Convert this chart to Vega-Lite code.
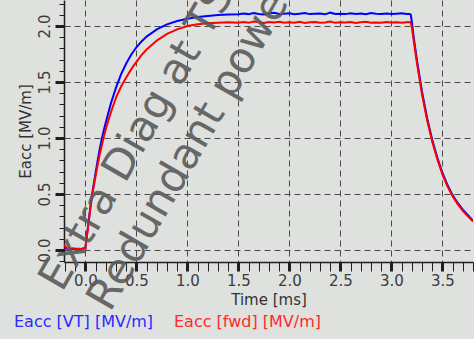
{
  "$schema": "https://vega.github.io/schema/vega-lite/v6.json",
  "width": 409,
  "height": 262,
  "autosize": {"type": "none"},
  "padding": {"left": 64, "top": 0, "right": 1, "bottom": 77},
  "background": "#dee1de",
  "config": {"view": {"stroke": null}, "font": "DejaVu Sans"},
  "datasets": {
    "curves": [
      {"s": "VT", "t": -0.21, "v": 0.015}, {"s": "VT", "t": -0.15, "v": 0.01}, {"s": "VT", "t": -0.1, "v": 0.012}, {"s": "VT", "t": -0.05, "v": 0.008}, {"s": "VT", "t": 0, "v": 0.015},
      {"s": "VT", "t": 0.01, "v": 0.10}, {"s": "VT", "t": 0.02, "v": 0.17}, {"s": "VT", "t": 0.03, "v": 0.24}, {"s": "VT", "t": 0.04, "v": 0.32}, {"s": "VT", "t": 0.06, "v": 0.47}, {"s": "VT", "t": 0.08, "v": 0.58}, {"s": "VT", "t": 0.1, "v": 0.69}, {"s": "VT", "t": 0.12, "v": 0.80}, {"s": "VT", "t": 0.14, "v": 0.90}, {"s": "VT", "t": 0.16, "v": 0.99}, {"s": "VT", "t": 0.18, "v": 1.07}, {"s": "VT", "t": 0.2, "v": 1.14}, {"s": "VT", "t": 0.25, "v": 1.31}, {"s": "VT", "t": 0.3, "v": 1.45}, {"s": "VT", "t": 0.35, "v": 1.57}, {"s": "VT", "t": 0.4, "v": 1.665}, {"s": "VT", "t": 0.45, "v": 1.745}, {"s": "VT", "t": 0.5, "v": 1.81}, {"s": "VT", "t": 0.55, "v": 1.862}, {"s": "VT", "t": 0.6, "v": 1.905}, {"s": "VT", "t": 0.7, "v": 1.97}, {"s": "VT", "t": 0.8, "v": 2.015}, {"s": "VT", "t": 0.9, "v": 2.045}, {"s": "VT", "t": 1.0, "v": 2.065}, {"s": "VT", "t": 1.1, "v": 2.08}, {"s": "VT", "t": 1.2, "v": 2.09}, {"s": "VT", "t": 1.3, "v": 2.098}, {"s": "VT", "t": 1.4, "v": 2.102},
      {"s": "VT", "t": 1.5, "v": 2.104}, {"s": "VT", "t": 1.55, "v": 2.112}, {"s": "VT", "t": 1.6, "v": 2.106}, {"s": "VT", "t": 1.65, "v": 2.115}, {"s": "VT", "t": 1.7, "v": 2.108}, {"s": "VT", "t": 1.75, "v": 2.103}, {"s": "VT", "t": 1.8, "v": 2.111}, {"s": "VT", "t": 1.85, "v": 2.118}, {"s": "VT", "t": 1.9, "v": 2.107}, {"s": "VT", "t": 1.95, "v": 2.109}, {"s": "VT", "t": 2.0, "v": 2.113}, {"s": "VT", "t": 2.05, "v": 2.105}, {"s": "VT", "t": 2.1, "v": 2.11}, {"s": "VT", "t": 2.15, "v": 2.116}, {"s": "VT", "t": 2.2, "v": 2.106}, {"s": "VT", "t": 2.25, "v": 2.109}, {"s": "VT", "t": 2.3, "v": 2.112}, {"s": "VT", "t": 2.35, "v": 2.104}, {"s": "VT", "t": 2.4, "v": 2.119}, {"s": "VT", "t": 2.45, "v": 2.108}, {"s": "VT", "t": 2.5, "v": 2.11}, {"s": "VT", "t": 2.55, "v": 2.106}, {"s": "VT", "t": 2.6, "v": 2.113}, {"s": "VT", "t": 2.65, "v": 2.107}, {"s": "VT", "t": 2.7, "v": 2.111}, {"s": "VT", "t": 2.75, "v": 2.104}, {"s": "VT", "t": 2.8, "v": 2.115}, {"s": "VT", "t": 2.85, "v": 2.109}, {"s": "VT", "t": 2.9, "v": 2.108}, {"s": "VT", "t": 2.95, "v": 2.112}, {"s": "VT", "t": 3.0, "v": 2.106}, {"s": "VT", "t": 3.05, "v": 2.11}, {"s": "VT", "t": 3.1, "v": 2.114}, {"s": "VT", "t": 3.15, "v": 2.107},
      {"s": "VT", "t": 3.18, "v": 2.108}, {"s": "VT", "t": 3.19, "v": 2.1}, {"s": "VT", "t": 3.2, "v": 2.04}, {"s": "VT", "t": 3.22, "v": 1.892}, {"s": "VT", "t": 3.25, "v": 1.697}, {"s": "VT", "t": 3.3, "v": 1.414}, {"s": "VT", "t": 3.35, "v": 1.179}, {"s": "VT", "t": 3.4, "v": 0.985}, {"s": "VT", "t": 3.45, "v": 0.825}, {"s": "VT", "t": 3.5, "v": 0.69}, {"s": "VT", "t": 3.55, "v": 0.58}, {"s": "VT", "t": 3.6, "v": 0.49}, {"s": "VT", "t": 3.65, "v": 0.42}, {"s": "VT", "t": 3.7, "v": 0.36}, {"s": "VT", "t": 3.75, "v": 0.31}, {"s": "VT", "t": 3.8, "v": 0.262},

      {"s": "fwd", "t": -0.21, "v": 0.05}, {"s": "fwd", "t": -0.2, "v": 0.035}, {"s": "fwd", "t": -0.18, "v": 0.015}, {"s": "fwd", "t": -0.15, "v": 0.01}, {"s": "fwd", "t": -0.12, "v": 0.015}, {"s": "fwd", "t": -0.1, "v": 0.008}, {"s": "fwd", "t": -0.07, "v": 0.012}, {"s": "fwd", "t": -0.04, "v": 0.01}, {"s": "fwd", "t": -0.02, "v": 0.015}, {"s": "fwd", "t": 0, "v": 0.02},
      {"s": "fwd", "t": 0.01, "v": 0.10}, {"s": "fwd", "t": 0.02, "v": 0.16}, {"s": "fwd", "t": 0.03, "v": 0.23}, {"s": "fwd", "t": 0.04, "v": 0.31}, {"s": "fwd", "t": 0.06, "v": 0.45}, {"s": "fwd", "t": 0.08, "v": 0.56}, {"s": "fwd", "t": 0.1, "v": 0.66}, {"s": "fwd", "t": 0.12, "v": 0.76}, {"s": "fwd", "t": 0.14, "v": 0.85}, {"s": "fwd", "t": 0.16, "v": 0.93}, {"s": "fwd", "t": 0.18, "v": 1.01}, {"s": "fwd", "t": 0.2, "v": 1.08}, {"s": "fwd", "t": 0.25, "v": 1.23}, {"s": "fwd", "t": 0.3, "v": 1.36}, {"s": "fwd", "t": 0.35, "v": 1.46}, {"s": "fwd", "t": 0.4, "v": 1.54}, {"s": "fwd", "t": 0.45, "v": 1.615}, {"s": "fwd", "t": 0.5, "v": 1.68}, {"s": "fwd", "t": 0.55, "v": 1.74}, {"s": "fwd", "t": 0.6, "v": 1.79}, {"s": "fwd", "t": 0.7, "v": 1.87}, {"s": "fwd", "t": 0.8, "v": 1.93}, {"s": "fwd", "t": 0.9, "v": 1.97}, {"s": "fwd", "t": 1.0, "v": 2.0}, {"s": "fwd", "t": 1.1, "v": 2.015}, {"s": "fwd", "t": 1.2, "v": 2.025}, {"s": "fwd", "t": 1.3, "v": 2.03}, {"s": "fwd", "t": 1.4, "v": 2.033},
      {"s": "fwd", "t": 1.5, "v": 2.03}, {"s": "fwd", "t": 1.55, "v": 2.036}, {"s": "fwd", "t": 1.6, "v": 2.028}, {"s": "fwd", "t": 1.65, "v": 2.04}, {"s": "fwd", "t": 1.7, "v": 2.033}, {"s": "fwd", "t": 1.75, "v": 2.026}, {"s": "fwd", "t": 1.8, "v": 2.035}, {"s": "fwd", "t": 1.85, "v": 2.031}, {"s": "fwd", "t": 1.9, "v": 2.038}, {"s": "fwd", "t": 1.95, "v": 2.029}, {"s": "fwd", "t": 2.0, "v": 2.034}, {"s": "fwd", "t": 2.05, "v": 2.03}, {"s": "fwd", "t": 2.1, "v": 2.037}, {"s": "fwd", "t": 2.15, "v": 2.027}, {"s": "fwd", "t": 2.2, "v": 2.033}, {"s": "fwd", "t": 2.25, "v": 2.036}, {"s": "fwd", "t": 2.3, "v": 2.029}, {"s": "fwd", "t": 2.35, "v": 2.032}, {"s": "fwd", "t": 2.4, "v": 2.039}, {"s": "fwd", "t": 2.45, "v": 2.028}, {"s": "fwd", "t": 2.5, "v": 2.034}, {"s": "fwd", "t": 2.55, "v": 2.031}, {"s": "fwd", "t": 2.6, "v": 2.035}, {"s": "fwd", "t": 2.65, "v": 2.027}, {"s": "fwd", "t": 2.7, "v": 2.033}, {"s": "fwd", "t": 2.75, "v": 2.037}, {"s": "fwd", "t": 2.8, "v": 2.03}, {"s": "fwd", "t": 2.85, "v": 2.032}, {"s": "fwd", "t": 2.9, "v": 2.029}, {"s": "fwd", "t": 2.95, "v": 2.036}, {"s": "fwd", "t": 3.0, "v": 2.031}, {"s": "fwd", "t": 3.05, "v": 2.034}, {"s": "fwd", "t": 3.1, "v": 2.028}, {"s": "fwd", "t": 3.15, "v": 2.033},
      {"s": "fwd", "t": 3.18, "v": 2.035}, {"s": "fwd", "t": 3.19, "v": 2.028}, {"s": "fwd", "t": 3.2, "v": 1.99}, {"s": "fwd", "t": 3.22, "v": 1.86}, {"s": "fwd", "t": 3.25, "v": 1.67}, {"s": "fwd", "t": 3.3, "v": 1.39}, {"s": "fwd", "t": 3.35, "v": 1.16}, {"s": "fwd", "t": 3.4, "v": 0.968}, {"s": "fwd", "t": 3.45, "v": 0.81}, {"s": "fwd", "t": 3.5, "v": 0.675}, {"s": "fwd", "t": 3.55, "v": 0.568}, {"s": "fwd", "t": 3.6, "v": 0.48}, {"s": "fwd", "t": 3.65, "v": 0.41}, {"s": "fwd", "t": 3.7, "v": 0.35}, {"s": "fwd", "t": 3.75, "v": 0.3}, {"s": "fwd", "t": 3.8, "v": 0.255}
    ]
  },
  "layer": [
    {
      "data": {"name": "curves"},
      "transform": [{"filter": "datum.s == 'VT'"}],
      "mark": {"type": "line", "strokeWidth": 2, "clip": true},
      "encoding": {
        "x": {
          "field": "t", "type": "quantitative",
          "scale": {"domain": [-0.21, 3.8], "nice": false, "zero": false},
          "axis": {
            "title": "Time [ms]",
            "values": [-0.2,-0.1,0,0.1,0.2,0.3,0.4,0.5,0.6,0.7,0.8,0.9,1,1.1,1.2,1.3,1.4,1.5,1.6,1.7,1.8,1.9,2,2.1,2.2,2.3,2.4,2.5,2.6,2.7,2.8,2.9,3,3.1,3.2,3.3,3.4,3.5,3.6,3.7,3.8],
            "tickCount": 200,
            "labelExpr": "abs(datum.value*2 - round(datum.value*2)) < 0.001 ? format(datum.value, '.1f') : ''",
            "labelOverlap": false, "labelFlush": false, "labelBound": false,
            "tickSize": 9,
            "tickWidth": {"condition": {"test": "abs(datum.value*2 - round(datum.value*2)) < 0.001", "value": 3}, "value": 1},
            "tickColor": "#1e1e1e",
            "grid": true,
            "gridOpacity": {"condition": {"test": "abs(datum.value*2 - round(datum.value*2)) < 0.001", "value": 1}, "value": 0},
            "gridDash": [6, 4], "gridColor": "#4a4a4a", "gridWidth": 1,
            "domainColor": "#1e1e1e", "domainWidth": 1.5,
            "labelFontSize": 15, "labelColor": "#3c3c3c", "labelPadding": 2,
            "titleFontSize": 15, "titleFontWeight": "normal", "titleColor": "#333333", "titlePadding": 4
          }
        },
        "y": {
          "field": "v", "type": "quantitative",
          "scale": {"domain": [-0.107, 2.232], "nice": false, "zero": false},
          "axis": {
            "title": "Eacc [MV/m]",
            "values": [-0.1,0,0.1,0.2,0.3,0.4,0.5,0.6,0.7,0.8,0.9,1,1.1,1.2,1.3,1.4,1.5,1.6,1.7,1.8,1.9,2,2.1,2.2],
            "tickCount": 200,
            "labelExpr": "abs(datum.value*2 - round(datum.value*2)) < 0.001 ? format(datum.value, '.1f') : ''",
            "labelOverlap": false, "labelFlush": false, "labelBound": false,
            "labelAngle": 270, "labelAlign": "center", "labelBaseline": "bottom",
            "tickSize": {"condition": {"test": "abs(datum.value*2 - round(datum.value*2)) < 0.001", "value": 9}, "value": 5},
            "tickWidth": {"condition": {"test": "abs(datum.value*2 - round(datum.value*2)) < 0.001", "value": 3}, "value": 1},
            "tickColor": "#1e1e1e",
            "grid": true,
            "gridOpacity": {"condition": {"test": "abs(datum.value*2 - round(datum.value*2)) < 0.001", "value": 1}, "value": 0},
            "gridDash": [6, 4], "gridColor": "#4a4a4a", "gridWidth": 1,
            "domainColor": "#1e1e1e", "domainWidth": 1.5,
            "labelFontSize": 15, "labelColor": "#3c3c3c", "labelPadding": 3,
            "titleFontSize": 15, "titleFontWeight": "normal", "titleColor": "#333333", "titlePadding": 4
          }
        },
        "color": {
          "field": "s", "type": "nominal",
          "scale": {"domain": ["VT", "fwd"], "range": ["#0000ff", "#ff0000"]},
          "legend": {
            "orient": "none", "legendX": -66, "legendY": 314, "direction": "horizontal",
            "title": null, "symbolSize": 0, "symbolStrokeWidth": 0, "symbolOpacity": 0,
            "labelOffset": 0, "columnPadding": 4, "labelLimit": 300,
            "labelFontSize": 16, "labelFont": "DejaVu Sans",
            "labelExpr": "datum.value == 'VT' ? 'Eacc [VT] [MV/m]' : 'Eacc [fwd] [MV/m]'",
            "labelColor": {"expr": "datum.value == 'VT' ? '#2a2aff' : '#ff2a2a'"}
          }
        }
      }
    },
    {
      "data": {"name": "curves"},
      "transform": [{"filter": "datum.s == 'fwd'"}],
      "mark": {"type": "line", "strokeWidth": 2, "clip": true},
      "encoding": {
        "x": {"field": "t", "type": "quantitative"},
        "y": {"field": "v", "type": "quantitative"},
        "color": {"field": "s", "type": "nominal"}
      }
    },
    {
      "data": {"values": [{}]},
      "mark": {
        "type": "text",
        "text": "Extra Diag at TS",
        "align": "left", "baseline": "alphabetic", "angle": 300,
        "fontSize": 42.5, "font": "DejaVu Sans",
        "color": "#5a5a5a", "opacity": 0.9
      },
      "encoding": {
        "x": {"datum": -0.229, "type": "quantitative"},
        "y": {"datum": -0.384, "type": "quantitative"}
      }
    },
    {
      "data": {"values": [{}]},
      "mark": {
        "type": "text",
        "text": "Redundant power",
        "align": "left", "baseline": "alphabetic", "angle": 300,
        "fontSize": 42.5, "font": "DejaVu Sans",
        "color": "#5a5a5a", "opacity": 0.9
      },
      "encoding": {
        "x": {"datum": 0.241, "type": "quantitative"},
        "y": {"datum": -0.5625, "type": "quantitative"}
      }
    }
  ]
}
